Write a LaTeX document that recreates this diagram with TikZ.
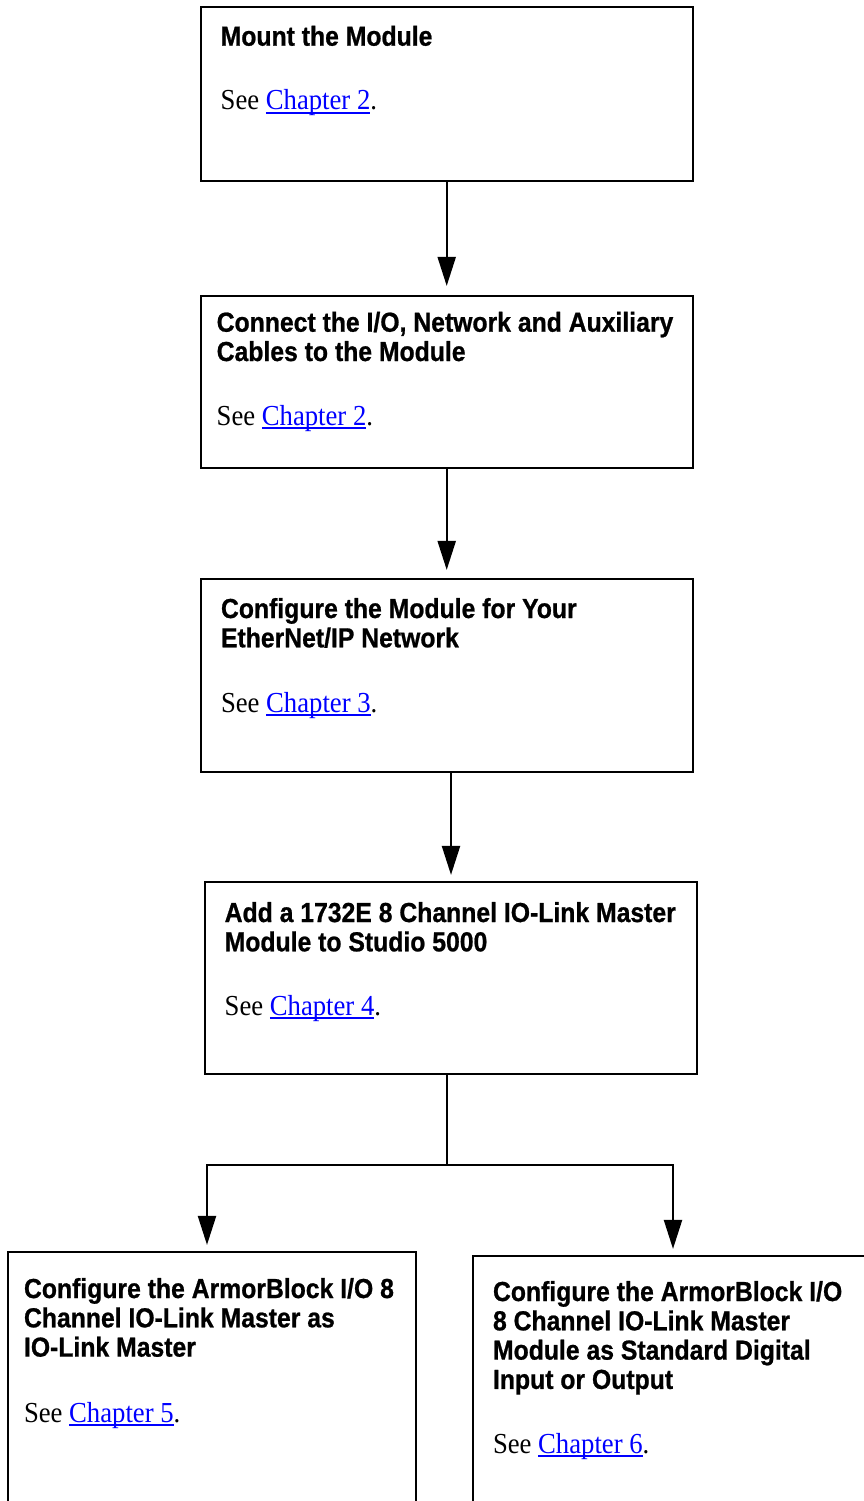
\documentclass[tikz,border=0pt]{standalone}
\usepackage{fontspec}
\setmainfont{Liberation Serif}[FakeStretch=0.92]
\newfontfamily\headfont{Liberation Sans}[FakeStretch=0.9, BoldFeatures={FakeBold=0.8}]
\usetikzlibrary{arrows.meta}
\definecolor{linkblue}{RGB}{0,0,255}
\newcommand\chlink[1]{\sbox0{\textcolor{linkblue}{#1}}\rlap{\textcolor{linkblue}{\rule[-3.6pt]{\wd0}{1.3pt}}}\usebox0}
\newcommand\seeline[1]{\fontsize{29}{32}\selectfont See \chlink{Chapter~#1}.}
\newcommand\headlines[1]{\vtop{\headfont\bfseries\fontsize{27.5}{29.3}\selectfont\baselineskip=29.3pt #1}}
\tikzset{
  box/.style={draw=black, line width=2.2pt, rectangle, inner sep=0pt, fill=none},
  txt/.style={anchor=base west, inner sep=0pt, outer sep=0pt},
  conn/.style={line width=2.2pt, line join=miter},
  arr/.style={conn, -{Triangle[length=29pt,width=18pt]}},
}
\begin{document}
\begin{tikzpicture}[x=1pt, y=-1pt]
\useasboundingbox (0,0) rectangle (864,1501);
\clip (0,0) rectangle (864,1501);
\fill[white] (0,0) rectangle (864,1501);
% boxes
\node[box, minimum width=492pt, minimum height=173.4pt] (b1) at (446.7,94.0) {};
\node[box, minimum width=492pt, minimum height=171.7pt] (b2) at (446.7,381.85) {};
\node[box, minimum width=492pt, minimum height=192.4pt] (b3) at (446.7,675.5) {};
\node[box, minimum width=492.6pt, minimum height=192pt] (b4) at (451,978.3) {};
\node[box, minimum width=408pt, minimum height=267.7pt] (b5) at (212,1386.15) {};
\node[box, minimum width=400pt, minimum height=264.3pt] (b6) at (673,1387.85) {};
% texts
\node[txt] (h1) at (220.7,45.7) {\headlines{\hbox{Mount the Module}}};
\node[txt] (s1) at (220.7,110) {\seeline{2}};
\node[txt] (h2) at (216.7,331.7) {\headlines{\hbox{Connect the I/O, Network and Auxiliary}\hbox{Cables to the Module}}};
\node[txt] (s2) at (216.7,425) {\seeline{2}};
\node[txt] (h3) at (221,618) {\headlines{\hbox{Configure the Module for Your}\hbox{EtherNet/IP Network}}};
\node[txt] (s3) at (221,712) {\seeline{3}};
\node[txt] (h4) at (224.7,922) {\headlines{\hbox{Add a 1732E 8 Channel IO-Link Master}\hbox{Module to Studio 5000}}};
\node[txt] (s4) at (224.7,1015) {\seeline{4}};
\node[txt] (h5) at (24,1298) {\headlines{\hbox{Configure the ArmorBlock I/O 8}\hbox{Channel IO-Link Master as}\hbox{IO-Link Master}}};
\node[txt] (s5) at (24,1422) {\seeline{5}};
\node[txt] (h6) at (493,1301) {\headlines{\hbox{Configure the ArmorBlock I/O}\hbox{8 Channel IO-Link Master}\hbox{Module as Standard Digital}\hbox{Input or Output}}};
\node[txt] (s6) at (493,1453) {\seeline{6}};
% connectors
\draw[arr, shorten >=9pt] (b1.south) -- (b2.north);
\draw[arr, shorten >=8.3pt] (b2.south) -- (b3.north);
\draw[arr, shorten >=6.3pt] (b3.south -| b4.north) -- (b4.north);
\coordinate (split) at (446.7,1165);
\coordinate (lt) at (207,1165);
\coordinate (rt) at (673,1165);
\draw[conn] (b4.south -| split) -- (split);
\draw[arr, shorten >=6.3pt] (split) -- (lt) -- (lt |- b5.north);
\draw[arr, shorten >=5.7pt] (split) -- (rt) -- (rt |- b6.north);
\end{tikzpicture}
\end{document}
